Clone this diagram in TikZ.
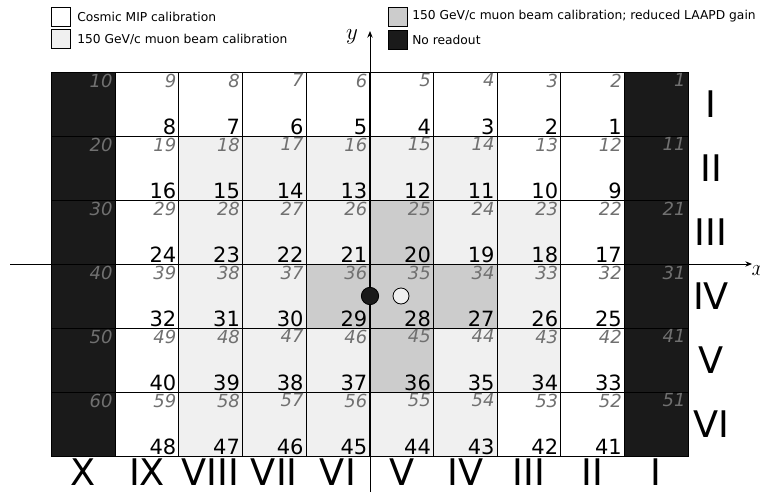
\documentclass[tikz,border=0pt]{standalone}
\usepackage{fontspec}
\setmainfont{DejaVu Sans}
\usetikzlibrary{arrows.meta}
\definecolor{NoRead}{RGB}{26,26,26}
\definecolor{BeamGray}{RGB}{240,240,240}
\definecolor{GainGray}{RGB}{204,204,204}
\definecolor{IdGray}{RGB}{112,112,112}
\tikzset{
  >=Stealth,
  cell/.style={draw=black,line width=.6pt,minimum width=47.74pt,minimum height=48pt,inner sep=0pt},
  cellW/.style={cell,fill=white},
  cellL/.style={cell,fill=BeamGray},
  cellM/.style={cell,fill=GainGray},
  cellK/.style={cell,fill=NoRead},
  oldno/.style={font=\fontsize{13.5}{13.5}\selectfont\itshape,text=IdGray,anchor=north east,inner xsep=2pt,inner ysep=1.5pt},
  newno/.style={font=\fontsize{15.75}{15.75}\selectfont,text=black,anchor=south east,inner xsep=2pt,inner ysep=1pt},
  roman/.style={font=\fontsize{27.5}{27.5}\selectfont,inner sep=0pt},
  legbox/.style={draw=black,line width=.6pt,minimum size=14.25pt,inner sep=0pt},
  legtext/.style={font=\fontsize{9.2}{11}\selectfont,anchor=west,inner sep=0pt},
  axis/.style={-{Stealth[length=5pt,width=4pt]},line width=.75pt},
  axlabel/.style={font=\fontsize{18}{18}\selectfont,inner sep=0pt},
  beam/.style={circle,draw=black,line width=.6pt,inner sep=0pt}
}
\begin{document}
\begin{tikzpicture}[x=.75pt,y=-.75pt]
  \useasboundingbox (0,0) rectangle (760,496);
  \node[legbox,fill=white] (lw) at (61,16.5) {};
  \node[legtext] (tw) at (77,16.5) {Cosmic MIP calibration};
  \node[legbox,fill=BeamGray] (ll) at (61,39) {};
  \node[legtext] (tl) at (77,39) {150 GeV/c muon beam calibration};
  \node[legbox,fill=GainGray] (lm) at (397.5,16.5) {};
  \node[legtext] (tm) at (412,16.5) {150 GeV/c muon beam calibration; reduced LAAPD gain};
  \node[legbox,fill=NoRead] (lk) at (397.5,39.5) {};
  \node[legtext] (tk) at (412,39.5) {No readout};
  \foreach \r/\row in {0/{K,W,W,W,W,W,W,W,W,K},1/{K,W,L,L,L,L,L,W,W,K},2/{K,W,L,L,L,M,L,L,W,K},
                       3/{K,W,L,L,M,M,M,L,W,K},4/{K,W,L,L,L,M,L,L,W,K},5/{K,W,L,L,L,L,L,W,W,K}}{
    \foreach \s [count=\c from 0] in \row {
      \node[cell\s] (c-\r-\c) at ({51.5+63.65*(\c+0.5)},{104+64*\r}) {};
      \pgfmathtruncatemacro\oldid{10*\r+10-\c}
      \node[oldno] (o-\r-\c) at (c-\r-\c.north east) {\oldid};
      \ifnum\c>0 \ifnum\c<9
        \pgfmathtruncatemacro\newid{8*\r+9-\c}
        \node[newno] (n-\r-\c) at (c-\r-\c.south east) {\newid};
      \fi\fi
    }
  }
  \coordinate (xfrom) at (10,264);
  \coordinate (xto) at (752,264);
  \coordinate (yfrom) at (370,492);
  \coordinate (yto) at (370,31);
  \draw[axis] (xfrom) -- (xto);
  \draw[axis] (yfrom) -- (yto);
  \node[axlabel] (xlab) at (758,271) {$x$};
  \node[axlabel] (ylab) at (352,37) {$y$};
  \node[beam,fill=NoRead,minimum size=13pt] (bd) at (370,296) {};
  \node[beam,fill=BeamGray,minimum size=12pt] (bl) at (401,296) {};
  \foreach \r/\txt in {0/I,1/II,2/III,3/IV,4/V,5/VI}
    \node[roman] (row\r) at (711,{104+64*\r}) {\txt};
  \foreach \c/\txt in {0/X,1/IX,2/VIII,3/VII,4/VI,5/V,6/IV,7/III,8/II,9/I}
    \node[roman] (col\c) at ({51.5+63.65*(\c+0.5)},472) {\txt};
\end{tikzpicture}
\end{document}
